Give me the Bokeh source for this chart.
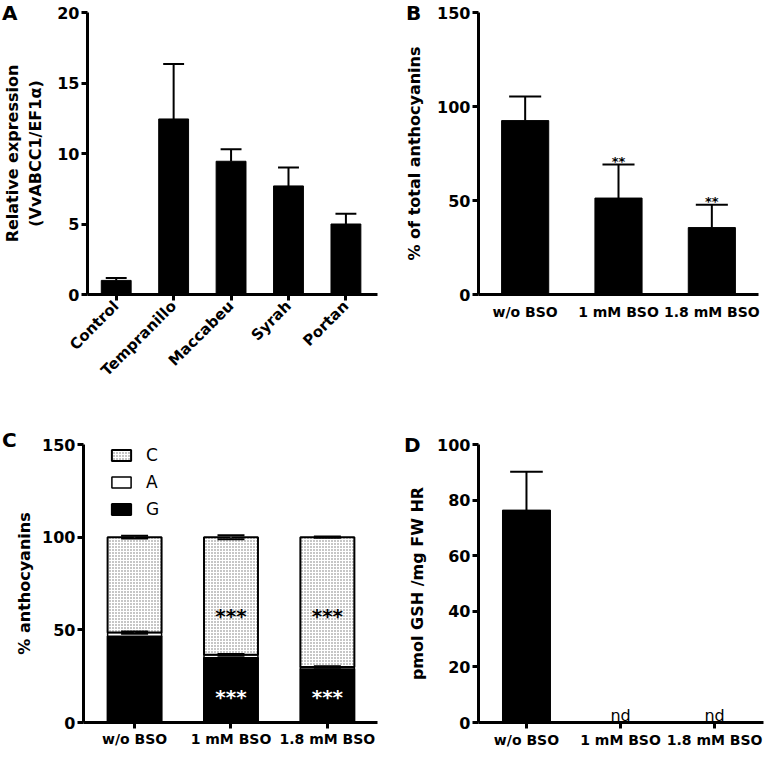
import math
from bokeh.plotting import figure
from bokeh.models import Range1d, FixedTicker, Legend, LegendItem, Div
from bokeh.layouts import column, row
from bokeh.embed import file_html
from bokeh.resources import INLINE

FONT = "DejaVu Sans"

# ---------------- data ----------------
# Panel A
a_categories = ["Control", "Tempranillo", "Maccabeu", "Syrah", "Portan"]
a_means = [1.0, 12.45, 9.45, 7.7, 5.0]
a_errors = [0.17, 3.9, 0.85, 1.3, 0.72]
a_yticks = [0, 5, 10, 15, 20]

# Panel B
b_categories = ["w/o BSO", "1 mM BSO", "1.8 mM BSO"]
b_means = [92.5, 51.3, 35.6]
b_errors = [12.8, 17.9, 12.2]
b_marks = ["", "**", "**"]
b_yticks = [0, 50, 100, 150]

# Panel C (stacked: G bottom, A middle, C top)
c_categories = ["w/o BSO", "1 mM BSO", "1.8 mM BSO"]
c_G = [46.5, 35.0, 28.8]
c_A = [2.0, 1.5, 1.2]
c_C = [51.5, 63.5, 70.0]
c_A_errors = [0.6, 0.5, 0.4]
c_C_errors = [0.7, 1.1, 0.3]
c_marks_C = ["", "***", "***"]
c_marks_G = ["", "***", "***"]
c_yticks = [0, 50, 100, 150]

# Panel D
d_categories = ["w/o BSO", "1 mM BSO", "1.8 mM BSO"]
d_means = [76.4, 0, 0]
d_errors = [13.8, 0, 0]
d_marks = ["", "nd", "nd"]
d_yticks = [0, 20, 40, 60, 80, 100]


def make_fig(width, height, xr, yr, mbl, mbr, mbt, mbb):
    p = figure(width=width, height=height, x_range=Range1d(*xr), y_range=Range1d(*yr),
               output_backend="svg", toolbar_location=None,
               min_border_left=mbl, min_border_right=mbr,
               min_border_top=mbt, min_border_bottom=mbb)
    p.grid.visible = False
    p.outline_line_color = None
    for ax in p.axis:
        ax.axis_line_width = 3
        ax.axis_line_color = "black"
        ax.major_tick_line_width = 3
        ax.major_tick_line_color = "black"
        ax.major_tick_in = 0
        ax.major_tick_out = 6
        ax.minor_tick_out = 0
        ax.minor_tick_in = 0
        ax.major_label_text_font = FONT
        ax.major_label_text_font_style = "bold"
        ax.major_label_text_color = "black"
        ax.major_label_text_font_size = "16px"
        ax.axis_label_text_font = FONT
        ax.axis_label_text_font_style = "bold"
        ax.axis_label_text_font_size = "16px"
        ax.axis_label_text_color = "black"
    p.yaxis.major_label_standoff = 2
    p.xaxis.axis_label_standoff = 0
    return p


def set_axes(p, cats, yticks, ylabel, ylab_standoff, xticks=True, xfont="14px", xstandoff=3):
    xs = list(range(len(cats)))
    p.xaxis.ticker = FixedTicker(ticks=xs)
    p.xaxis.major_label_overrides = {i: c for i, c in zip(xs, cats)}
    p.xaxis.major_label_text_font_size = xfont
    p.xaxis.major_label_standoff = xstandoff
    if not xticks:
        p.xaxis.major_tick_out = 0
    p.yaxis.ticker = FixedTicker(ticks=yticks)
    p.yaxis.axis_label = ylabel
    p.yaxis.axis_label_standoff = ylab_standoff
    return xs


def error_up(p, xs, tops, errs, cap_w, lw=2):
    ex = [x for x, e in zip(xs, errs) if e > 0]
    et = [t for t, e in zip(tops, errs) if e > 0]
    ee = [e for e in errs if e > 0]
    hi = [t + e for t, e in zip(et, ee)]
    p.segment(x0=ex, y0=et, x1=ex, y1=hi, line_width=lw, line_color="black")
    p.segment(x0=[x - cap_w / 2 for x in ex], y0=hi, x1=[x + cap_w / 2 for x in ex], y1=hi,
              line_width=lw, line_color="black")


def error_both(p, xs, centers, errs, cap_w, lw=2):
    lo = [c - e for c, e in zip(centers, errs)]
    hi = [c + e for c, e in zip(centers, errs)]
    p.segment(x0=xs, y0=lo, x1=xs, y1=hi, line_width=1.5, line_color="#555555")
    for ys in (lo, hi):
        p.segment(x0=[x - cap_w / 2 for x in xs], y0=ys, x1=[x + cap_w / 2 for x in xs], y1=ys,
                  line_width=lw, line_color="black")


def letter(text, left, top):
    return Div(text=text, styles={
        "position": "absolute", "left": f"{left}px", "top": f"{top}px",
        "font-family": FONT, "font-weight": "bold", "font-size": "20px",
        "color": "black", "z-index": "5", "line-height": "normal"})


# ---------------- Panel A ----------------
pA = make_fig(384, 398, (-0.5, 4.55), (0, 20), 86, 7, 12, 104)
xsA = set_axes(pA, a_categories, a_yticks, "Relative expression\n(VvABCC1/EF1α)", 9,
               xfont="15px", xstandoff=3)
pA.xaxis.major_label_orientation = math.pi / 4
bwA = 0.52
pA.vbar(x=xsA, top=a_means, width=bwA, fill_color="black", line_color="black")
error_up(pA, xsA, a_means, a_errors, bwA * 0.7)

# ---------------- Panel B ----------------
pB = make_fig(384, 398, (-0.5, 2.5), (0, 150), 94, 10, 12, 104)
xsB = set_axes(pB, b_categories, b_yticks, "% of total anthocyanins", 10, xticks=False,
               xstandoff=9)
bwB = 0.505
pB.vbar(x=xsB, top=b_means, width=bwB, fill_color="black", line_color="black")
error_up(pB, xsB, b_means, b_errors, bwB * 0.68)
pB.text(x=xsB, y=[m + e for m, e in zip(b_means, b_errors)], text=b_marks,
        text_font={"value": FONT}, text_font_style="bold", text_font_size="13px",
        text_align="center", text_baseline="alphabetic", y_offset=-3, text_color="black")

# ---------------- Panel C ----------------
pC = make_fig(384, 352, (-0.53, 2.52), (0, 150), 83, 7, 46, 27)
xsC = set_axes(pC, c_categories, c_yticks, "% anthocyanins", 5, xstandoff=2)
bwC = 0.56
g_top = c_G
a_top = [g + a for g, a in zip(c_G, c_A)]
c_top = [g + a + c for g, a, c in zip(c_G, c_A, c_C)]
rG = pC.vbar(x=xsC, bottom=[0] * len(xsC), top=g_top, width=bwC, fill_color="black",
             line_color="black", line_width=2)
rA = pC.vbar(x=xsC, bottom=g_top, top=a_top, width=bwC, fill_color="white",
             line_color="black", line_width=1.5)
rC = pC.vbar(x=xsC, bottom=a_top, top=c_top, width=bwC, fill_color="white",
             hatch_pattern="dot", hatch_scale=3, hatch_weight=1.2, hatch_color="#707070",
             line_color="black", line_width=2)
error_both(pC, xsC, a_top, c_A_errors, bwC * 0.5)
error_both(pC, xsC, c_top, c_C_errors, bwC * 0.5)
pC.text(x=xsC, y=[64] * len(xsC), text=c_marks_C, text_font={"value": FONT},
        text_font_style="bold", text_font_size="20px", text_align="center",
        text_baseline="alphabetic", y_offset=12, text_color="black")
pC.text(x=xsC, y=[20] * len(xsC), text=c_marks_G, text_font={"value": FONT},
        text_font_style="bold", text_font_size="20px", text_align="center",
        text_baseline="alphabetic", y_offset=12, text_color="white")
legend = Legend(items=[LegendItem(label="C", renderers=[rC]),
                       LegendItem(label="A", renderers=[rA]),
                       LegendItem(label="G", renderers=[rG])],
                location=(26, 203), orientation="vertical",
                glyph_width=24, glyph_height=14, label_standoff=13, spacing=7,
                padding=0, margin=0, border_line_color=None, background_fill_alpha=0,
                label_text_font=FONT, label_text_font_size="17px", label_text_color="black")
pC.add_layout(legend)

# ---------------- Panel D ----------------
pD = make_fig(384, 352, (-0.51, 2.52), (0, 100), 94, 5, 46, 27)
xsD = set_axes(pD, d_categories, d_yticks, "pmol GSH /mg FW HR", 7)
bwD = 0.51
pD.vbar(x=xsD, top=d_means, width=bwD, fill_color="black", line_color="black")
error_up(pD, xsD, d_means, d_errors, bwD * 0.68)
pD.text(x=xsD, y=[0] * len(xsD), text=d_marks, text_font={"value": FONT},
        text_font_size="16px", text_align="center", text_baseline="alphabetic",
        y_offset=-7, text_color="black")

letters = [letter("A", -3, -4), letter("B", 401, -4), letter("C", -3, 423), letter("D", 399, 428)]

layout = column(row(pA, pB), row(pC, pD), *letters)
open("out.html", "w").write(file_html(layout, INLINE))
